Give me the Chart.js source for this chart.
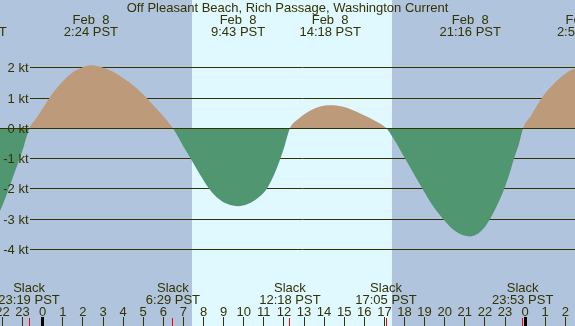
<!DOCTYPE html>
<html>
<head>
<meta charset="utf-8">
<script src="https://cdn.jsdelivr.net/npm/chart.js@4.4.1/dist/chart.umd.min.js"></script>
<style>
  html, body { margin: 0; padding: 0; background: #b0c4de; }
  #wrap { width: 575px; height: 326px; }
</style>
</head>
<body>
<div id="wrap"><canvas id="tide" width="575" height="326"></canvas></div>
<script>
// ---- data (hours from midnight Feb 8, PST) ----
const hours = [-3.32, -2.6, -2.12, -1.5, -1.0, -0.66, -0.3, 0, 0.33, 1.0, 1.5, 1.94, 2.4, 3.01, 3.5, 4.0, 4.5, 5.17, 5.7, 6.0, 6.48,
  7.0, 7.36, 7.8, 8.29, 8.8, 9.2, 9.72, 10.2, 10.7, 11.14, 11.5, 11.8, 12.05, 12.3,
  12.7, 13.3, 13.8, 14.3, 14.9, 15.5, 15.95, 16.5, 17.1,
  17.6, 18.07, 18.5, 18.9, 19.4, 19.93, 20.5, 21.27, 21.8, 22.25, 22.6, 22.96, 23.2, 23.45, 23.7, 23.9,
  24.3, 24.83, 25.3, 25.8, 26.3, 26.93, 27.5];
const knots = [-3.45, -3.2, -2.72, -1.65, -0.72, 0, 0.35, 0.65, 1.0, 1.55, 1.85, 2.0, 2.08, 2.0, 1.87, 1.66, 1.42, 1.0, 0.62, 0.4, 0,
  -0.6, -1.0, -1.5, -2.0, -2.35, -2.5, -2.57, -2.5, -2.3, -2.0, -1.55, -1.05, -0.55, 0,
  0.3, 0.58, 0.72, 0.76, 0.72, 0.58, 0.44, 0.26, 0,
  -0.5, -1.05, -1.55, -2.0, -2.55, -3.0, -3.38, -3.57, -3.4, -3.0, -2.55, -2.0, -1.55, -1.0, -0.5, 0,
  0.42, 1.0, 1.38, 1.7, 1.92, 2.03, 1.9];

const yTicks = [2, 1, 0, -1, -2, -3, -4];
const hourTicks = [-2, -1, 0, 1, 2, 3, 4, 5, 6, 7, 8, 9, 10, 11, 12, 13, 14, 15, 16, 17, 18, 19, 20, 21, 22, 23, 24, 25, 26];

const maxTimes = [-3.32, 2.4, 9.72, 14.3, 21.27, 26.93];
const maxDates = ['Feb  7', 'Feb  8', 'Feb  8', 'Feb  8', 'Feb  8', 'Feb  9'];
const maxLabels = ['20:41 PST', '2:24 PST', '9:43 PST', '14:18 PST', '21:16 PST', '2:56 PST'];

const slackTimes = [-0.68, 6.48, 12.3, 17.08, 23.88];
const slackLabels = ['23:19 PST', '6:29 PST', '12:18 PST', '17:05 PST', '23:53 PST'];

const sunrise = 7.43, sunset = 17.36;
const title = 'Off Pleasant Beach, Rich Passage, Washington Current';

// ---- colours ----
const NIGHT = '#b0c4de';
const DAY = '#e0f8ff';
const FLOOD = '#bc9a7a';
const EBB = '#509670';
const INK = '#333300';
const FONT = '13px "Liberation Sans", Arial, sans-serif';

// ============================================
//  PLUGIN — background bands, grid, labels
// ============================================
const tideDecor = {
  id: 'tideDecor',
  beforeDraw(chart) {
    const { ctx, scales: { x } } = chart;
    ctx.save();
    ctx.fillStyle = NIGHT;
    ctx.fillRect(0, 0, chart.width, chart.height);
    const x1 = Math.round(x.getPixelForValue(sunrise));
    const x2 = Math.round(x.getPixelForValue(sunset));
    ctx.fillStyle = DAY;
    ctx.fillRect(x1, 0, x2 - x1, chart.height);
    ctx.restore();
  },
  beforeDatasetsDraw(chart) {
    const { ctx, scales: { y } } = chart;
    ctx.save();
    ctx.strokeStyle = INK;
    ctx.lineWidth = 1;
    yTicks.forEach(v => {
      const py = Math.floor(y.getPixelForValue(v)) + 0.5;
      ctx.beginPath();
      ctx.moveTo(30, py);
      ctx.lineTo(chart.width, py);
      ctx.stroke();
    });
    ctx.restore();
  },
  afterDatasetsDraw(chart) {
    const { ctx, scales: { x, y } } = chart;
    ctx.save();
    // zero line over the fill
    const py0 = Math.floor(y.getPixelForValue(0)) + 0.5;
    ctx.strokeStyle = INK;
    ctx.lineWidth = 1;
    ctx.beginPath();
    ctx.moveTo(0, py0);
    ctx.lineTo(chart.width, py0);
    ctx.stroke();

    ctx.font = FONT;
    ctx.fillStyle = INK;
    ctx.textBaseline = 'alphabetic';

    // y labels
    ctx.textAlign = 'right';
    yTicks.forEach(v => {
      const py = Math.floor(y.getPixelForValue(v));
      ctx.fillText(v + ' kt', 28.5, py + 5);
    });

    // title + max current labels
    ctx.textAlign = 'center';
    ctx.fillText(title, chart.width / 2, 12);
    maxTimes.forEach((t, i) => {
      const px = x.getPixelForValue(t);
      ctx.fillText(maxDates[i], px, 24);
      ctx.fillText(maxLabels[i], px, 36);
    });

    // slack labels
    slackTimes.forEach((t, i) => {
      const px = x.getPixelForValue(t);
      ctx.fillText('Slack', px, 292);
      ctx.fillText(slackLabels[i], px, 304);
    });

    // hour labels and ticks
    hourTicks.forEach(h => {
      const px = x.getPixelForValue(h);
      ctx.fillStyle = INK;
      ctx.fillText(String(((h % 24) + 24) % 24), px, 316);
      const fx = Math.floor(px);
      if (h % 24 === 0) {
        ctx.fillStyle = '#000000';
        ctx.fillRect(fx - 1, 317, 3, 9);
      } else {
        ctx.fillRect(fx, 317, 1, 9);
      }
    });

    // red slack ticks
    ctx.fillStyle = '#ff0000';
    slackTimes.forEach(t => {
      const fx = Math.floor(x.getPixelForValue(t));
      ctx.fillRect(fx, 318, 1, 8);
    });
    ctx.restore();
  }
};

// ============================================
//  CHART
// ============================================
const PX_PER_HOUR = 20.1, ZERO_X = 42.7;
const PX_PER_KT = 30.3, ZERO_Y = 128.3;

new Chart(document.getElementById('tide'), {
  type: 'line',
  data: {
    datasets: [{
      data: hours.map((h, i) => ({ x: h, y: knots[i] })),
      borderWidth: 0,
      borderColor: 'rgba(0,0,0,0)',
      pointRadius: 0,
      cubicInterpolationMode: 'monotone',
      fill: { target: 'origin', above: FLOOD, below: EBB }
    }]
  },
  options: {
    responsive: false,
    devicePixelRatio: 1,
    animation: false,
    layout: { padding: 0 },
    plugins: { legend: { display: false }, tooltip: { enabled: false } },
    scales: {
      x: { type: 'linear', display: false, min: -ZERO_X / PX_PER_HOUR, max: (575 - ZERO_X) / PX_PER_HOUR },
      y: { display: false, min: -(326 - ZERO_Y) / PX_PER_KT, max: ZERO_Y / PX_PER_KT }
    }
  },
  plugins: [tideDecor]
});
</script>
</body>
</html>
